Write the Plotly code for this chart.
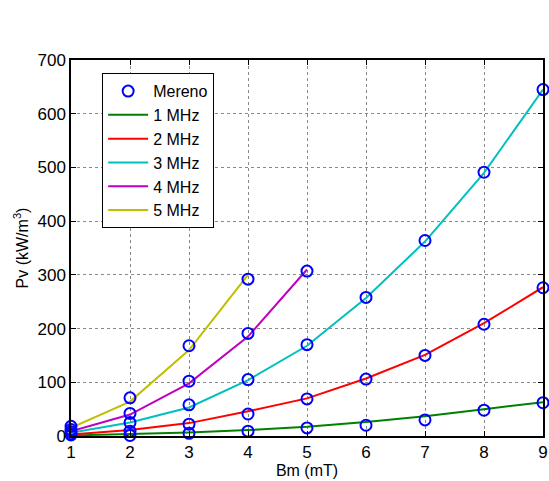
import plotly.graph_objects as go

bm = [1, 2, 3, 4, 5, 6, 7, 8, 9]

# Fitted curves (per frequency)
fit_1mhz = [1, 3.5, 6.5, 11, 17, 26, 37, 50, 63]
fit_2mhz = [3, 11, 24, 46, 70, 107, 151, 210, 277]
fit_3mhz = [6, 25, 53, 104, 168, 257, 362, 490, 645]
fit_4mhz = [9, 40, 98, 185, 310]
fit_5mhz = [15, 64, 160, 300]

# Measured values ("Mereno")
meas_1mhz = [2, 1, 5, 9, 15, 20, 30, 48, 62]
meas_2mhz = [4, 9, 22, 41, 69, 106, 150, 208, 276]
meas_3mhz = [8, 25, 58, 105, 170, 258, 364, 491, 645]
meas_4mhz = [12, 42, 102, 191, 307]
meas_5mhz = [18, 71, 168, 292]

labels = ["1 MHz", "2 MHz", "3 MHz", "4 MHz", "5 MHz"]
colors = ["#008000", "#FF0000", "#00BFBF", "#BF00BF", "#BFBF00"]
fits = [fit_1mhz, fit_2mhz, fit_3mhz, fit_4mhz, fit_5mhz]
meas = [meas_1mhz, meas_2mhz, meas_3mhz, meas_4mhz, meas_5mhz]

fig = go.Figure()
for lab, col, f in zip(labels, colors, fits):
    fig.add_trace(go.Scatter(x=bm[:len(f)], y=f, mode="lines", name=lab,
                             line=dict(color=col, width=2)))

mx, my = [], []
for m in meas:
    mx += bm[:len(m)]
    my += m
fig.add_trace(go.Scatter(x=mx, y=my, mode="markers", name="Mereno", legendrank=1,
                         cliponaxis=False,
                         marker=dict(symbol="circle-open", size=11, color="#0000FF",
                                     line=dict(width=2, color="#0000FF"))))

font = dict(family="Liberation Sans, Arial, sans-serif", size=16, color="black")
tfont = dict(family="Liberation Sans, Arial, sans-serif", size=17, color="black")
axis_common = dict(showline=True, linecolor="black", linewidth=1.5, mirror="ticks",
                   ticks="inside", ticklen=5, tickcolor="black", showgrid=True,
                   gridcolor="#888888", griddash="dot", gridwidth=1, zeroline=False,
                   tickfont=tfont, automargin=False, ticklabeloverflow="allow")
fig.update_layout(
    width=549, height=481,
    margin=dict(l=71, r=6, t=60, b=45),
    plot_bgcolor="white", paper_bgcolor="white",
    font=font,
    xaxis=dict(range=[1, 9], tickvals=bm, title=dict(text="Bm (mT)", font=font, standoff=4),
               **axis_common),
    yaxis=dict(range=[0, 700], dtick=100,
               title=dict(text="Pv (kW/m<sup>3</sup>)", font=font, standoff=5),
               **axis_common),
    legend=dict(x=0.066, y=0.965, xanchor="left", yanchor="top",
                bgcolor="white", bordercolor="black", borderwidth=1,
                font=font, tracegroupgap=0, itemwidth=40),
    showlegend=True,
)
fig.write_html("out.html", config={"displayModeBar": False},
               post_script="document.body.style.margin='0';document.body.style.overflow='hidden';")
